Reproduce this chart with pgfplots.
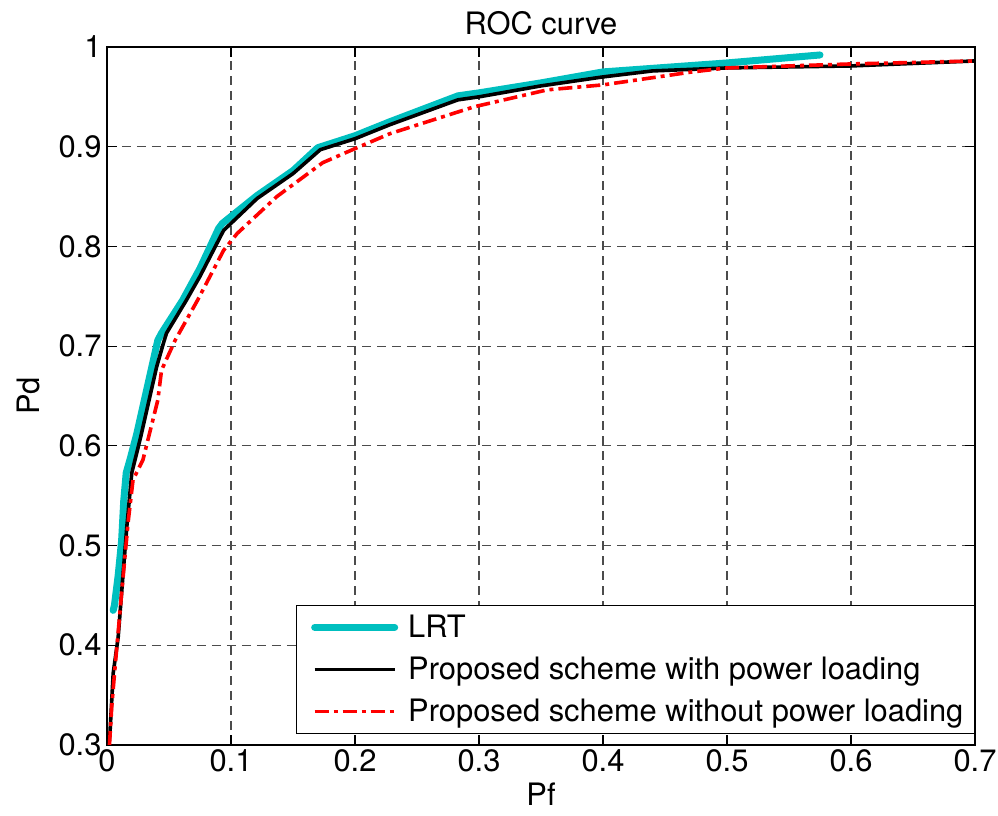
\documentclass[border=0pt]{standalone}
\usepackage{fontspec}
\setmainfont{TeX Gyre Heros}
\usepackage{pgfplots}
\pgfplotsset{compat=1.18}

\definecolor{lrtcyan}{RGB}{0,191,191}
\newcommand{\figfont}{\fontsize{31}{37}\selectfont}

\begin{document}
\begin{tikzpicture}
\begin{axis}[
  scale only axis,
  width=868bp, height=698bp,
  xmin=0, xmax=0.7, ymin=0.3, ymax=1,
  xtick={0,0.1,...,0.7},
  ytick={0.3,0.4,...,1.0},
  /pgf/number format/assume math mode=true,
  /pgf/number format/fixed,
  font=\figfont,
  tick label style={font=\figfont},
  tick align=inside,
  major tick length=10bp,
  axis line style={line width=1.6bp},
  every tick/.style={black, line width=1.2bp},
  grid=major,
  major grid style={gray!60!black, line width=1.1bp, dash pattern=on 9bp off 6bp},
  title={ROC curve},
  title style={yshift=2bp},
  xlabel={Pf}, ylabel={Pd},
  xlabel style={yshift=-4bp},
  ylabel style={yshift=12bp},
  xticklabel style={yshift=-1bp},
  yticklabel style={xshift=-2bp},
  legend cell align=left,
  legend style={at={(1,0)}, anchor=south east, yshift=11bp,
    draw=black, line width=1.2bp, inner xsep=9bp, inner ysep=8bp,
    row sep=14bp,
    font=\figfont},
  legend image code/.code={%
    \path (-6bp,0bp) (88bp,0bp);
    \draw[#1] plot coordinates {(0bp,0bp) (80bp,0bp)};},
  name=ax,
]
\coordinate (ll) at (rel axis cs:0,0);
\coordinate (ur) at (rel axis cs:1,1);

% Likelihood ratio test (benchmark)
\addplot[lrtcyan, line width=7bp, line join=round, line cap=round] coordinates {
  (0.005,0.435) (0.006,0.440) (0.009,0.470) (0.0118,0.505) (0.0135,0.545)
  (0.0155,0.573) (0.0185,0.586) (0.024,0.612) (0.041,0.706) (0.044,0.713)
  (0.061,0.746) (0.075,0.778) (0.090,0.818) (0.093,0.823) (0.121,0.851)
  (0.150,0.876) (0.170,0.899) (0.200,0.911) (0.228,0.925) (0.283,0.951)
  (0.300,0.954) (0.350,0.964) (0.400,0.975) (0.500,0.984) (0.575,0.992)
};
\addlegendentry{LRT}

% Proposed scheme, power loading on
\addplot[black, line width=3.6bp, line join=round] coordinates {
  (0.0015,0.300) (0.0024,0.312) (0.005,0.372) (0.009,0.408) (0.013,0.472)
  (0.016,0.519) (0.020,0.573) (0.0226,0.586) (0.027,0.608) (0.040,0.679)
  (0.0455,0.703) (0.048,0.713) (0.064,0.746) (0.075,0.770) (0.094,0.816)
  (0.121,0.848) (0.150,0.873) (0.172,0.897) (0.200,0.908) (0.228,0.922)
  (0.283,0.947) (0.300,0.950) (0.350,0.961) (0.400,0.970) (0.440,0.976)
  (0.500,0.979) (0.600,0.981) (0.700,0.986)
};
\addlegendentry{Proposed scheme with power loading}

% Proposed scheme, power loading off
\addplot[red, line width=3.6bp, line join=round, dash pattern=on 14bp off 5bp on 4bp off 5bp] coordinates {
  (0.002,0.300) (0.0038,0.338) (0.0065,0.378) (0.012,0.455) (0.017,0.523)
  (0.021,0.566) (0.029,0.586) (0.033,0.606) (0.041,0.646) (0.044,0.676)
  (0.055,0.706) (0.073,0.746) (0.094,0.796) (0.105,0.813) (0.137,0.850)
  (0.174,0.884) (0.198,0.897) (0.228,0.913) (0.296,0.940) (0.355,0.957)
  (0.400,0.962) (0.472,0.975) (0.500,0.979) (0.600,0.983) (0.700,0.986)
};
\addlegendentry{Proposed scheme without power loading}
\end{axis}
\pgfresetboundingbox
\path[use as bounding box] ([shift={(-107bp,-71bp)}]ll) rectangle ([shift={(23bp,47bp)}]ur);
\end{tikzpicture}
\end{document}
